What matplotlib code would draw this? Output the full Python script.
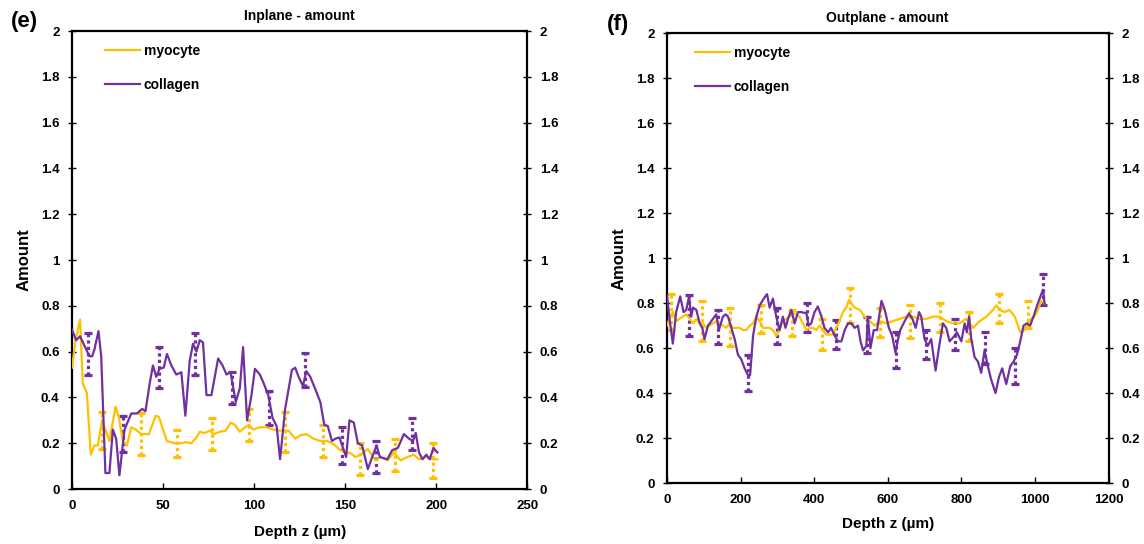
# Inplane / outplane amount vs depth, myocyte and collagen

import matplotlib
matplotlib.use('Agg')
import matplotlib.pyplot as plt

plt.rcParams['font.family'] = ['Liberation Sans', 'DejaVu Sans']
plt.rcParams['font.weight'] = 'bold'

YELLOW = '#FFC000'
PURPLE = '#7030A0'

# ---- panel (e): inplane ----
in_myo_x = [0, 1.8, 4.4, 5.9, 8.1, 10.3, 12.3, 14.1, 16.5, 18.7, 20.5, 23.9, 25.7, 27.9, 30.1,
            32.5, 34.9, 38, 42.2, 45.9, 47.7, 49.9, 52.1, 56.3, 60, 62.4, 65.5, 68.3, 70.1,
            72.9, 75.6, 77.8, 81.1, 84.4, 87, 89.4, 92.1, 94.9, 97.2, 99.4, 103.1, 106.8,
            110.5, 114.1, 118.9, 122.5, 125.3, 128.8, 132.6, 136.3, 140, 143.7, 147.3, 150.1,
            152.8, 155.6, 158.4, 162.4, 166.6, 169.4, 173.4, 176.7, 180.4, 184.1, 187.7, 190.5,
            194.2, 197.8, 200.6]
in_myo_y = [0.53, 0.645, 0.74, 0.46, 0.42, 0.15, 0.19, 0.19, 0.30, 0.25, 0.21, 0.36, 0.31, 0.21,
            0.19, 0.27, 0.26, 0.24, 0.24, 0.32, 0.315, 0.26, 0.21, 0.20, 0.20, 0.205, 0.20, 0.225,
            0.25, 0.245, 0.255, 0.24, 0.25, 0.255, 0.29, 0.28, 0.25, 0.27, 0.28, 0.26, 0.27, 0.27,
            0.26, 0.255, 0.255, 0.22, 0.235, 0.24, 0.22, 0.21, 0.21, 0.195, 0.17, 0.16, 0.157,
            0.14, 0.15, 0.175, 0.125, 0.14, 0.125, 0.16, 0.125, 0.14, 0.15, 0.13, 0.14, 0.13, 0.13]

in_col_x = [0, 2.2, 4.4, 9.5, 11, 12.3, 14.5, 16, 18.3, 20.5, 22.4, 24.2, 26, 28.8, 32.5, 35.6,
            38.5, 40.3, 42.6, 44.4, 46.2, 48, 50.3, 52.1, 54.5, 57.2, 60, 62.2, 64.6, 66.4, 68.3,
            70.1, 71.9, 73.8, 76.5, 80.2, 82.6, 84.8, 87, 89.9, 92.1, 93.9, 96.1, 98.5, 100.4,
            103.1, 105.3, 107.7, 110.1, 112.3, 114.2, 117, 120.7, 122.5, 124.4, 126.8, 128.6,
            130.8, 133.6, 136.3, 138.5, 140.4, 142.7, 144.6, 146.8, 148.3, 150.5, 152.3, 154.7,
            156.9, 159.3, 162.4, 164.8, 167.2, 169, 173.1, 175.8, 178.9, 182.2, 185, 187.2, 188.7,
            190.5, 192.4, 194.5, 196.4, 198.4, 200.6]
in_col_y = [0.696, 0.65, 0.667, 0.58, 0.58, 0.61, 0.69, 0.58, 0.07, 0.07, 0.26, 0.22, 0.06, 0.26,
            0.33, 0.33, 0.35, 0.34, 0.46, 0.54, 0.49, 0.525, 0.53, 0.59, 0.54, 0.50, 0.51, 0.32,
            0.56, 0.635, 0.60, 0.65, 0.64, 0.41, 0.41, 0.57, 0.54, 0.50, 0.51, 0.38, 0.44, 0.62,
            0.30, 0.41, 0.525, 0.50, 0.46, 0.41, 0.31, 0.275, 0.13, 0.35, 0.52, 0.53, 0.49, 0.45,
            0.515, 0.49, 0.435, 0.38, 0.28, 0.275, 0.21, 0.22, 0.225, 0.19, 0.14, 0.30, 0.29,
            0.20, 0.19, 0.087, 0.14, 0.19, 0.14, 0.13, 0.17, 0.18, 0.24, 0.22, 0.21, 0.245, 0.16,
            0.13, 0.15, 0.13, 0.18, 0.16]

in_myo_err_x = [16.6, 38, 57.5, 77, 97, 117, 138, 158, 177.5, 198]
in_myo_err_y = [0.255, 0.24, 0.20, 0.24, 0.28, 0.25, 0.21, 0.13, 0.15, 0.125]
in_myo_err = [0.081, 0.09, 0.06, 0.07, 0.07, 0.087, 0.07, 0.07, 0.07, 0.075]

in_col_err_x = [9, 28, 48, 67.5, 88, 108, 128, 148, 167, 186.5]
in_col_err_y = [0.59, 0.24, 0.53, 0.59, 0.44, 0.355, 0.52, 0.19, 0.14, 0.24]
in_col_err = [0.09, 0.08, 0.09, 0.09, 0.07, 0.075, 0.075, 0.08, 0.07, 0.07]

# ---- panel (f): outplane ----
out_myo_x = [0, 9, 16, 25, 34, 43, 52.6, 62, 71, 80, 89, 98, 107, 116, 125, 134, 143, 152, 161,
             170, 179, 188, 198, 207, 216, 225, 234, 243, 252, 261, 270, 279, 288, 297, 306, 315,
             324, 333, 342, 351, 360, 369, 379, 388, 397, 406, 415, 424, 433, 442, 451, 460, 469,
             478, 487, 495, 501, 510, 524, 537, 551, 564, 578, 596, 614, 632, 650, 669, 687, 705,
             723, 741, 759, 777, 795, 813, 832, 850, 868, 886, 895, 904, 918, 931, 945, 954, 960,
             972, 981, 990, 999, 1008, 1017, 1026]
out_myo_y = [0.70, 0.74, 0.76, 0.72, 0.73, 0.74, 0.75, 0.73, 0.71, 0.73, 0.71, 0.71, 0.69, 0.70,
             0.71, 0.72, 0.71, 0.70, 0.69, 0.71, 0.69, 0.69, 0.69, 0.68, 0.68, 0.70, 0.71, 0.74,
             0.72, 0.69, 0.69, 0.69, 0.68, 0.655, 0.68, 0.72, 0.73, 0.74, 0.76, 0.75, 0.74, 0.71,
             0.68, 0.69, 0.69, 0.68, 0.70, 0.68, 0.66, 0.66, 0.66, 0.69, 0.72, 0.76, 0.78, 0.815,
             0.80, 0.78, 0.77, 0.74, 0.72, 0.70, 0.72, 0.71, 0.72, 0.73, 0.74, 0.74, 0.73, 0.73,
             0.74, 0.74, 0.72, 0.71, 0.71, 0.73, 0.69, 0.72, 0.74, 0.77, 0.79, 0.77, 0.76, 0.77,
             0.74, 0.70, 0.67, 0.68, 0.71, 0.73, 0.74, 0.77, 0.81, 0.80]

out_col_x = [0, 7, 16, 25, 36, 45, 52.6, 60, 66, 70.8, 79.8, 89, 96, 102, 111.5, 125, 134, 141,
             152, 159.5, 166, 175, 184, 193, 202, 211, 220, 226, 234, 243, 252, 263, 272, 279, 288,
             297, 306, 315, 322, 329, 338, 347, 356, 365, 379, 385, 392, 401, 410, 420, 428, 438,
             446, 456, 465, 474, 483, 492, 501, 510, 519, 526, 533, 542, 546, 553, 562, 571, 583,
             592, 603, 612, 621, 628, 634, 646, 658, 667, 676, 685, 691, 700, 709, 718, 730, 739,
             750, 759, 768, 779, 788, 800, 809, 815, 821, 827, 836, 845, 854, 863, 872, 881, 893,
             902, 911, 922, 933, 942, 951, 960, 969, 978, 987, 996, 1006, 1015, 1022, 1026]
out_col_y = [0.836, 0.73, 0.62, 0.76, 0.83, 0.76, 0.77, 0.83, 0.74, 0.78, 0.77, 0.71, 0.69, 0.64,
             0.70, 0.73, 0.75, 0.68, 0.74, 0.75, 0.74, 0.69, 0.64, 0.57, 0.55, 0.51, 0.48, 0.48,
             0.655, 0.74, 0.79, 0.82, 0.84, 0.78, 0.82, 0.74, 0.68, 0.74, 0.69, 0.73, 0.77, 0.71,
             0.76, 0.76, 0.755, 0.70, 0.71, 0.76, 0.785, 0.74, 0.69, 0.67, 0.69, 0.655, 0.63, 0.63,
             0.68, 0.71, 0.71, 0.69, 0.70, 0.63, 0.59, 0.61, 0.74, 0.60, 0.68, 0.68, 0.81, 0.77,
             0.69, 0.655, 0.58, 0.64, 0.68, 0.72, 0.755, 0.73, 0.69, 0.76, 0.74, 0.64, 0.61, 0.64,
             0.50, 0.60, 0.71, 0.69, 0.63, 0.65, 0.67, 0.63, 0.71, 0.67, 0.74, 0.64, 0.56, 0.54,
             0.49, 0.59, 0.52, 0.46, 0.40, 0.47, 0.51, 0.44, 0.52, 0.54, 0.57, 0.63, 0.70, 0.71,
             0.70, 0.74, 0.79, 0.83, 0.86, 0.80]

out_myo_err_x = [12, 95, 172, 256, 340, 420, 497, 578, 660, 741, 821, 901, 981]
out_myo_err_y = [0.76, 0.72, 0.695, 0.73, 0.71, 0.66, 0.79, 0.715, 0.72, 0.735, 0.695, 0.775, 0.75]
out_myo_err = [0.08, 0.09, 0.085, 0.063, 0.058, 0.07, 0.078, 0.065, 0.073, 0.065, 0.065, 0.065, 0.06]

out_col_err_x = [60, 139, 220, 299, 380, 460, 544, 623, 703, 784, 863, 945, 1022]
out_col_err_y = [0.745, 0.695, 0.49, 0.70, 0.735, 0.66, 0.66, 0.59, 0.615, 0.66, 0.60, 0.52, 0.86]
out_col_err = [0.09, 0.075, 0.08, 0.08, 0.065, 0.063, 0.08, 0.08, 0.065, 0.068, 0.07, 0.08, 0.07]

yticks = [0, 0.2, 0.4, 0.6, 0.8, 1, 1.2, 1.4, 1.6, 1.8, 2]
ytick_labels = ['0', '0.2', '0.4', '0.6', '0.8', '1', '1.2', '1.4', '1.6', '1.8', '2']


def dotted_err(ax, x, y, e, color):
    eb = ax.errorbar(x, y, yerr=e, fmt='none', ecolor=color, elinewidth=2.3,
                     capsize=3, capthick=2.3, zorder=2)
    for col in eb[2]:
        col.set_linestyle((0, (1, 1)))


def setup(ax, title, xmax, xstep, letter, leg_x, xlabpad):
    ax.set_xlim(0, xmax)
    ax.set_ylim(0, 2)
    ax.set_xticks(range(0, xmax + 1, xstep))
    ax.set_yticks(yticks)
    ax.set_yticklabels(ytick_labels)
    for lab in ax.get_xticklabels() + ax.get_yticklabels():
        lab.set_fontweight('bold')
    ax.tick_params(axis='both', labelsize=9.5, width=1, length=4)
    ax.tick_params(axis='x', direction='in', pad=8)
    ax.tick_params(axis='y', direction='inout', right=True, labelright=True,
                   length=6, pad=6)
    for sp in ax.spines.values():
        sp.set_linewidth(1.6)
    ax.set_title(title, fontsize=10, fontweight='bold', pad=8)
    ax.set_xlabel('Depth z (\u00b5m)', fontsize=11, fontweight='bold', labelpad=xlabpad)
    ax.set_ylabel('Amount', fontsize=12, fontweight='bold', labelpad=7)
    ax.legend(loc='upper left', frameon=False, handlelength=2.5,
              handletextpad=0.3, labelspacing=1.45, bbox_to_anchor=(leg_x, 1.0),
              prop={'weight': 'bold', 'size': 10})
    ax.text(-0.135, 1.02, letter, transform=ax.transAxes, fontsize=16,
            fontweight='bold', va='center', ha='left')


fig = plt.figure(figsize=(11.44, 5.44), dpi=100)
ax1 = fig.add_axes([0.063, 0.101, 0.398, 0.842])
ax2 = fig.add_axes([0.583, 0.112, 0.386, 0.827])

ax1.plot(in_myo_x, in_myo_y, color=YELLOW, lw=1.6, label='myocyte', zorder=3)
ax1.plot(in_col_x, in_col_y, color=PURPLE, lw=1.6, label='collagen', zorder=3)
dotted_err(ax1, in_myo_err_x, in_myo_err_y, in_myo_err, YELLOW)
dotted_err(ax1, in_col_err_x, in_col_err_y, in_col_err, PURPLE)
setup(ax1, 'Inplane - amount', 250, 50, '(e)', 0.045, 9)

ax2.plot(out_myo_x, out_myo_y, color=YELLOW, lw=1.6, label='myocyte', zorder=3)
ax2.plot(out_col_x, out_col_y, color=PURPLE, lw=1.6, label='collagen', zorder=3)
dotted_err(ax2, out_myo_err_x, out_myo_err_y, out_myo_err, YELLOW)
dotted_err(ax2, out_col_err_x, out_col_err_y, out_col_err, PURPLE)
setup(ax2, 'Outplane - amount', 1200, 200, '(f)', 0.035, 8)

fig.savefig('out.png', dpi=100)
plt.close(fig)
